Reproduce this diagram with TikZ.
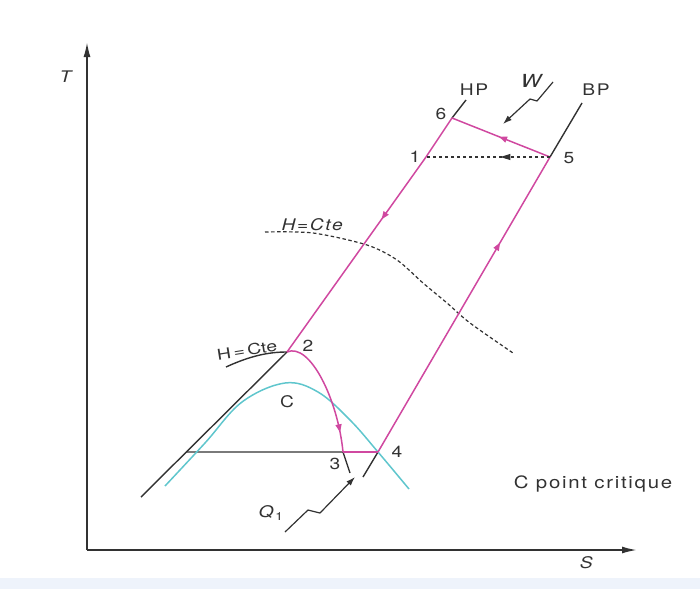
\documentclass[tikz,border=0pt]{standalone}
\usepackage{fontspec}
\setmainfont{TeX Gyre Heros}[FakeStretch=1.2, LetterSpace=10]
\newfontfamily\tiltfont{TeX Gyre Heros}[FakeStretch=1.3]
\usetikzlibrary{arrows.meta, decorations.markings}

\definecolor{cyclepink}{RGB}{208,72,160}
\definecolor{domecyan}{RGB}{95,198,205}
\definecolor{inkgray}{RGB}{50,50,50}
\definecolor{bandblue}{RGB}{238,243,251}

\tikzset{
  lbl/.style={font=\fontsize{16}{18}\selectfont, text=inkgray, inner sep=1pt},
  isobar/.style={inkgray, line width=1.4pt},
  cyclepath/.style={cyclepink, line width=1.5pt},
  midarrow/.style={postaction={decorate}, decoration={markings,
    mark=at position #1 with {\arrow{Triangle[length=8pt,width=6pt]}}}},
  zigarrow/.style={inkgray, line width=1.2pt, -{Latex[length=9pt,width=6pt]}},
}

\begin{document}
\begin{tikzpicture}[x=1pt, y=-1pt, line join=round]
  \useasboundingbox (0,0) rectangle (700,589);
  \fill[bandblue] (0,578) rectangle (700,589);

  % Axes
  \coordinate (O) at (87,550);
  \coordinate (Tend) at (87,42);
  \coordinate (Send) at (637,550);
  \draw[inkgray, line width=1.8pt, -{Latex[length=15pt,width=7pt]}] (O) -- (Tend);
  \draw[inkgray, line width=1.8pt, -{Latex[length=15pt,width=7pt]}] (O) -- (Send);
  \node[lbl] (Tlbl) at (67,77) {\textit{T}};
  \node[lbl] (Slbl) at (587,563) {\textit{S}};

  % Cycle points
  \coordinate (p6) at (452,118);
  \coordinate (p1) at (426,157);
  \coordinate (p5) at (550,157);
  \coordinate (p2) at (287,352);
  \coordinate (p3) at (343,452);
  \coordinate (p4) at (378,452);

  % Isobars HP and BP
  \coordinate (hpTop) at (466,100);
  \coordinate (bpTop) at (582,103);
  \coordinate (hpLow) at (141,497);
  \coordinate (bpLow) at (363,477);
  \coordinate (hEnd) at (350,473);
  \coordinate (liq) at (intersection of p2--hpLow and p3--p4);
  \draw[isobar] (hpTop) -- (p6);
  \draw[isobar] (bpTop) -- (p5);
  \draw[isobar] (p2) -- (hpLow);
  \draw[isobar] (p4) -- (bpLow);
  \draw[isobar] (liq) -- (p3);
  \draw[isobar] (p3) -- (hEnd);

  % Saturation dome
  \coordinate (C) at (285,383);
  \draw[domecyan, line width=1.5pt] plot[smooth, tension=0.6] coordinates
    {(165,486) (205,443) (242,402) (C) (318,392) (350,420) (378,452) (409,489)};

  % Isenthalps
  \coordinate (hA) at (226,367);
  \draw[isobar] (hA) .. controls (250,356) and (268,352) .. (p2);
  \draw[inkgray, line width=1.2pt, dash pattern=on 3.5pt off 2.5pt] plot[smooth] coordinates
    {(265,232) (313,233) (367,245) (397,260) (423,283) (447,303) (470,323) (513,353)};

  % Cycle
  \draw[cyclepath, midarrow=0.52] (p5) -- (p6);
  \draw[cyclepath] (p6) -- (p1);
  \draw[cyclepath, midarrow=0.32] (p1) -- (p2);
  \draw[cyclepath, midarrow=0.84] (p2) .. controls (310,342) and (338,400) .. (p3);
  \draw[cyclepath] (p3) -- (p4);
  \draw[cyclepath, midarrow=0.71] (p4) -- (p5);
  \draw[inkgray, line width=1.1pt, dash pattern=on 3.5pt off 2.5pt, postaction={decorate},
    decoration={markings, mark=at position 0.4 with {\arrow{Triangle[length=10pt,width=6pt]}}}]
    (p5) -- (p1);

  % Work and heat
  \coordinate (wStart) at (553,82);
  \coordinate (wTip) at (503,124);
  \draw[zigarrow] (wStart) -- (537,101) -- (530,99) -- (wTip);
  \coordinate (qStart) at (285,532);
  \coordinate (qTip) at (355,477);
  \draw[zigarrow] (qStart) -- (308,510) -- (320,513) -- (qTip);

  % Labels
  \node[lbl] (l6) at (441,114) {6};
  \node[lbl] (l1) at (415,157) {1};
  \node[lbl] (l5) at (569,158) {5};
  \node[lbl] (lHP) at (474,90) {HP};
  \node[lbl] (lBP) at (596,90) {BP};
  \node[lbl, font=\fontsize{18}{20}\selectfont] (lW) at (533,81) {\textit{W}};
  \node[lbl] (l2) at (308,346) {2};
  \node[lbl] (l3) at (335,464) {3};
  \node[lbl] (l4) at (397,452) {4};
  \node[lbl] (lC) at (287,402) {C};
  \node[lbl, font=\tiltfont\fontsize{15}{17}\selectfont, rotate=9, inner sep=0pt] (lH2) at (247,350) {H\kern2.5pt=\kern2.5pt Cte};
  \node[lbl] (lH) at (313,225) {\textit{H=Cte}};
  \node[lbl] (lQ) at (271,513) {\textit{Q}\textsubscript{1}};
  \node[lbl, font=\fontsize{17}{19}\selectfont] (lcrit) at (593,484) {C point critique};
\end{tikzpicture}
\end{document}
